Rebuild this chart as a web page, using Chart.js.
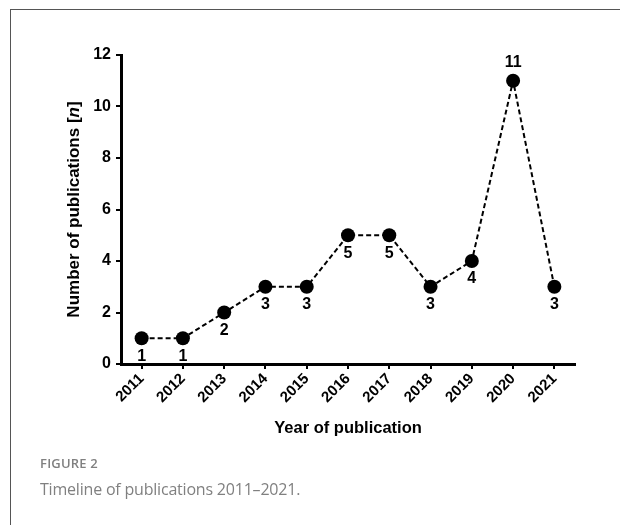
<!DOCTYPE html>
<html>
<head>
<meta charset="utf-8">
<script src="https://cdn.jsdelivr.net/npm/chart.js@4.4.0/dist/chart.umd.min.js"></script>
<style>
  html, body { margin: 0; padding: 0; background: #fff; }
  #wrap { position: relative; width: 620px; height: 525px; overflow: hidden; }
  #frame { position: absolute; left: 10px; top: 9px; width: 700px; height: 600px; border: 1.5px solid #555; box-sizing: border-box; }
  #c { position: absolute; left: 0; top: 0; }
  .cap1 { position: absolute; left: 40px; top: 454px; font-family: "Open Sans", "Noto Sans", sans-serif; font-size: 13px; font-weight: 600; color: #808080; letter-spacing: 0.2px; }
  .cap2 { position: absolute; left: 40px; top: 478px; font-family: "Open Sans", "Noto Sans", sans-serif; font-size: 16px; color: #808080; font-weight: 400; letter-spacing: -0.2px; }
</style>
</head>
<body>
<div id="wrap">
  <div id="frame"></div>
  <canvas id="c" width="620" height="525"></canvas>
  <div class="cap1">FIGURE 2</div>
  <div class="cap2">Timeline of publications 2011–2021.</div>
</div>
<script>
const years = ["2011","2012","2013","2014","2015","2016","2017","2018","2019","2020","2021"];
const counts = [1, 1, 2, 3, 3, 5, 5, 3, 4, 11, 3];
const yTicks = [0, 2, 4, 6, 8, 10, 12];
const labelAbove = [false,false,false,false,false,false,false,false,false,true,false];

const FONT = '"Liberation Sans", Arial, sans-serif';

const extras = {
  id: 'extras',
  afterDatasetsDraw(chart) {
    const ctx = chart.ctx;
    const meta = chart.getDatasetMeta(0);
    ctx.save();
    ctx.fillStyle = '#000';
    ctx.font = 'bold 16px ' + FONT;
    ctx.textAlign = 'center';
    ctx.textBaseline = 'middle';
    meta.data.forEach((pt, i) => {
      const dy = labelAbove[i] ? -18 : 18;
      ctx.fillText(String(counts[i]), pt.x, pt.y + dy);
    });
    // y axis title with italic n
    const area = chart.chartArea;
    const cy = (area.top + area.bottom) / 2;
    ctx.translate(74, cy);
    ctx.rotate(-Math.PI / 2);
    const p1 = 'Number of publications [';
    const p2 = 'n';
    const p3 = ']';
    const F = '17px ' + FONT;
    ctx.font = 'bold ' + F;
    const w1 = ctx.measureText(p1).width;
    const w3 = ctx.measureText(p3).width;
    ctx.font = 'bold italic ' + F;
    const w2 = ctx.measureText(p2).width;
    const total = w1 + w2 + w3;
    let x = -total / 2;
    ctx.textAlign = 'left';
    ctx.font = 'bold ' + F;
    ctx.fillText(p1, x, 0); x += w1;
    ctx.font = 'bold italic ' + F;
    ctx.fillText(p2, x, 0); x += w2;
    ctx.font = 'bold ' + F;
    ctx.fillText(p3, x, 0);
    ctx.restore();
    // x axis title
    ctx.save();
    ctx.fillStyle = '#000';
    ctx.font = 'bold 16.5px ' + FONT;
    ctx.textAlign = 'center';
    ctx.textBaseline = 'middle';
    ctx.fillText('Year of publication', (area.left + area.right) / 2, 428);
    ctx.restore();
  }
};

new Chart(document.getElementById('c'), {
  type: 'line',
  data: {
    labels: years,
    datasets: [{
      data: counts,
      borderColor: '#000',
      borderWidth: 2,
      borderDash: [5, 3],
      pointRadius: 7,
      pointHoverRadius: 7,
      pointBackgroundColor: '#000',
      pointBorderColor: '#000',
      pointBorderWidth: 0,
      tension: 0,
      fill: false
    }]
  },
  options: {
    responsive: false,
    animation: false,
    events: [],
    layout: { padding: { left: 0, top: 55, right: 45, bottom: 0 } },
    plugins: { legend: { display: false }, tooltip: { enabled: false } },
    scales: {
      x: {
        type: 'category',
        offset: true,
        afterFit(scale) { scale.height = 161; },
        border: { display: true, color: '#000', width: 3 },
        grid: { drawOnChartArea: false, drawTicks: true, tickLength: 5, color: '#000', lineWidth: 2, offset: false },
        ticks: {
          color: '#000',
          font: { family: FONT, size: 15, weight: 'bold' },
          minRotation: 45, maxRotation: 45, padding: 1, autoSkip: false
        }
      },
      y: {
        min: 0, max: 12,
        afterFit(scale) { scale.width = 121; },
        afterBuildTicks(scale) { scale.ticks = yTicks.map(v => ({ value: v })); },
        border: { display: true, color: '#000', width: 3 },
        grid: { drawOnChartArea: false, drawTicks: true, tickLength: 5, color: '#000', lineWidth: 2 },
        ticks: {
          color: '#000',
          font: { family: FONT, size: 16, weight: 'bold' },
          padding: 5
        }
      }
    }
  },
  plugins: [extras]
});
</script>
</body>
</html>
